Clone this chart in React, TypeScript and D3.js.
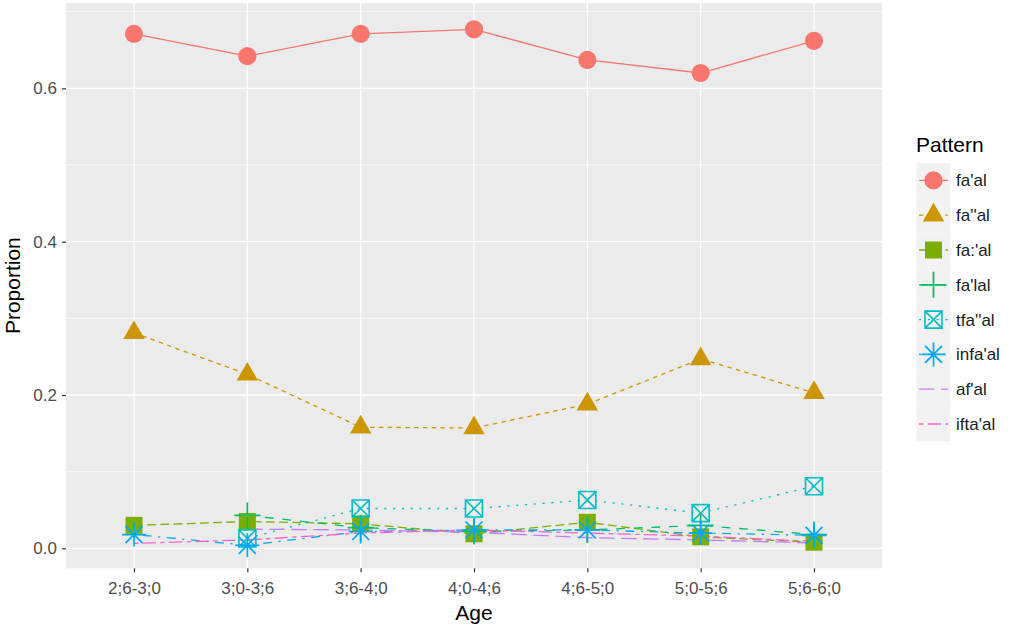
import * as d3 from "d3";
import { useEffect, useRef } from "react";

// age bands on the x axis
const ages = ["2;6-3;0", "3;0-3;6", "3;6-4;0", "4;0-4;6", "4;6-5;0", "5;0-5;6", "5;6-6;0"];

const patterns = ["fa'al", "fa''al", "fa:'al", "fa'lal", "tfa''al", "infa'al", "af'al", "ifta'al"];

// proportions (null = not in the data)
const faal = [0.671, 0.642, 0.671, 0.677, 0.637, 0.62, 0.662];
const faaal = [0.281, 0.227, 0.158, 0.157, 0.188, 0.247, 0.203];
const faColonAl = [0.03, 0.035, 0.032, 0.019, 0.034, 0.015, 0.008];
const falal = [null, 0.043, 0.027, 0.022, 0.024, 0.03, 0.018];
const tfaaal = [null, 0.013, 0.052, 0.052, 0.063, 0.046, 0.081];
const infaal = [0.018, 0.004, 0.022, 0.024, 0.024, 0.02, 0.017];
const afal = [null, 0.025, 0.024, 0.021, 0.014, 0.011, 0.007];
const iftaal = [0.0065, 0.011, 0.02, 0.024, 0.02, 0.016, 0.009];

const yTicks = [0, 0.2, 0.4, 0.6];
const yMinor = [0.1, 0.3, 0.5, 0.7];

const colors = ["#F8766D", "#CD9600", "#7CAE00", "#00BE67", "#00BFC4", "#00A9FF", "#C77CFF", "#FF61CC"];
const shapes = ["circle", "triangle", "square", "plus", "squarecross", "asterisk", "none", "none"];
const dashes = ["none", "4.4,4.4", "8.8,4.4", "8.8,8.8", "2.2,6.6", "2.2,6.6,8.8,6.6", "15.4,6.6", "4.4,4.4,13.2,4.4"];

const series = [faal, faaal, faColonAl, falal, tfaaal, infaal, afal, iftaal];

const width = 1013;
const height = 630;
const panel = { left: 66, right: 882, top: 3, bottom: 568.3 };
const font = "'Liberation Sans', Arial, sans-serif";
const lw = 1.3;

function drawShape(g: any, shape: string, color: string, cx: number, cy: number) {
  if (shape === "circle") {
    g.append("path").attr("transform", `translate(${cx},${cy})`).attr("d", d3.symbol(d3.symbolCircle, 260)()).attr("fill", color);
  } else if (shape === "triangle") {
    g.append("path").attr("transform", `translate(${cx},${cy})`).attr("d", d3.symbol(d3.symbolTriangle, 200)()).attr("fill", color);
  } else if (shape === "square") {
    g.append("rect").attr("x", cx - 8.5).attr("y", cy - 8.5).attr("width", 17).attr("height", 17).attr("fill", color);
  } else if (shape === "plus") {
    const s = 13;
    g.append("path").attr("d", `M${cx - s},${cy}H${cx + s}M${cx},${cy - s}V${cy + s}`).attr("stroke", color).attr("stroke-width", 1.7).attr("fill", "none");
  } else if (shape === "squarecross") {
    const s = 8.5;
    g.append("path")
      .attr("d", `M${cx - s},${cy - s}H${cx + s}V${cy + s}H${cx - s}ZM${cx - s},${cy - s}L${cx + s},${cy + s}M${cx + s},${cy - s}L${cx - s},${cy + s}`)
      .attr("stroke", color).attr("stroke-width", 1.6).attr("fill", "none");
  } else if (shape === "asterisk") {
    const s = 12;
    const d = s * Math.SQRT1_2;
    g.append("path")
      .attr("d", `M${cx - s},${cy}H${cx + s}M${cx},${cy - s}V${cy + s}M${cx - d},${cy - d}L${cx + d},${cy + d}M${cx + d},${cy - d}L${cx - d},${cy + d}`)
      .attr("stroke", color).attr("stroke-width", 1.7).attr("fill", "none");
  }
}

export default function App() {
  const chartRef = useRef<HTMLDivElement>(null);

  useEffect(() => {
    if (!chartRef.current) return;

    const svg = d3
      .select(chartRef.current)
      .append("svg")
      .attr("width", width)
      .attr("height", height)
      .style("font-family", font);

    svg.append("rect").attr("width", width).attr("height", height).attr("fill", "white");

    const x = d3.scalePoint<string>().domain(ages).range([panel.left, panel.right]).padding(0.6);
    const y = d3.scaleLinear().domain([-0.026, 0.7113]).range([panel.bottom, panel.top]);

    // panel
    svg
      .append("rect")
      .attr("x", panel.left)
      .attr("y", panel.top)
      .attr("width", panel.right - panel.left)
      .attr("height", panel.bottom - panel.top)
      .attr("fill", "#EBEBEB");

    const grid = svg.append("g").attr("stroke", "white").attr("fill", "none");
    yMinor.forEach((v) => {
      grid.append("line").attr("x1", panel.left).attr("x2", panel.right).attr("y1", y(v)).attr("y2", y(v)).attr("stroke-width", 0.7);
    });
    yTicks.forEach((v) => {
      grid.append("line").attr("x1", panel.left).attr("x2", panel.right).attr("y1", y(v)).attr("y2", y(v)).attr("stroke-width", 1.3);
    });
    ages.forEach((a) => {
      grid.append("line").attr("x1", x(a)!).attr("x2", x(a)!).attr("y1", panel.top).attr("y2", panel.bottom).attr("stroke-width", 1.3);
    });

    // axes
    const yAxis = svg
      .append("g")
      .attr("transform", `translate(${panel.left},0)`)
      .call(d3.axisLeft(y).tickValues(yTicks).tickFormat(d3.format(".1f")).tickSize(4).tickPadding(5));
    yAxis.select(".domain").remove();
    yAxis.selectAll(".tick line").attr("stroke", "#333333").attr("stroke-width", 1.2);
    yAxis.selectAll(".tick text").attr("fill", "#4D4D4D").style("font-size", "17px").style("font-family", font);

    const xAxis = svg
      .append("g")
      .attr("transform", `translate(0,${panel.bottom})`)
      .call(d3.axisBottom(x).tickSize(4).tickPadding(10));
    xAxis.select(".domain").remove();
    xAxis.selectAll(".tick line").attr("stroke", "#333333").attr("stroke-width", 1.2);
    xAxis.selectAll(".tick text").attr("fill", "#4D4D4D").style("font-size", "17px").style("font-family", font);

    svg
      .append("text")
      .attr("x", (panel.left + panel.right) / 2)
      .attr("y", 620)
      .attr("text-anchor", "middle")
      .style("font-size", "21px")
      .text("Age");

    svg
      .append("text")
      .attr("transform", `translate(20,${(panel.top + panel.bottom) / 2}) rotate(-90)`)
      .attr("text-anchor", "middle")
      .style("font-size", "21px")
      .text("Proportion");

    // lines
    const line = d3
      .line<number | null>()
      .defined((d) => d !== null)
      .x((_, i) => x(ages[i])!)
      .y((d) => y(d as number));

    series.forEach((vals, k) => {
      svg
        .append("path")
        .attr("d", line(vals))
        .attr("fill", "none")
        .attr("stroke", colors[k])
        .attr("stroke-width", lw)
        .attr("stroke-dasharray", dashes[k]);
    });

    // points
    series.forEach((vals, k) => {
      const g = svg.append("g");
      vals.forEach((v, i) => {
        if (v === null) return;
        drawShape(g, shapes[k], colors[k], x(ages[i])!, y(v));
      });
    });

    // legend
    const lg = svg.append("g");
    lg.append("text").attr("x", 916).attr("y", 152).style("font-size", "21px").text("Pattern");
    const keyTop = 163;
    const keyH = 34.8;
    patterns.forEach((p, k) => {
      const ky = keyTop + k * keyH;
      lg.append("rect").attr("x", 916.5).attr("y", ky).attr("width", 34).attr("height", keyH).attr("fill", "#F2F2F2");
      const cy = ky + keyH / 2;
      lg.append("line")
        .attr("x1", 919)
        .attr("x2", 948)
        .attr("y1", cy)
        .attr("y2", cy)
        .attr("stroke", colors[k])
        .attr("stroke-width", lw)
        .attr("stroke-dasharray", dashes[k]);
      drawShape(lg, shapes[k], colors[k], 933.5, cy);
      lg.append("text")
        .attr("x", 956)
        .attr("y", cy + 6)
        .attr("fill", "#1A1A1A")
        .style("font-size", "17px")
        .text(p);
    });

    return () => {
      d3.select(chartRef.current).selectAll("*").remove();
    };
  }, []);

  return <div ref={chartRef} style={{ position: "absolute", left: 0, top: 0 }} />;
}
